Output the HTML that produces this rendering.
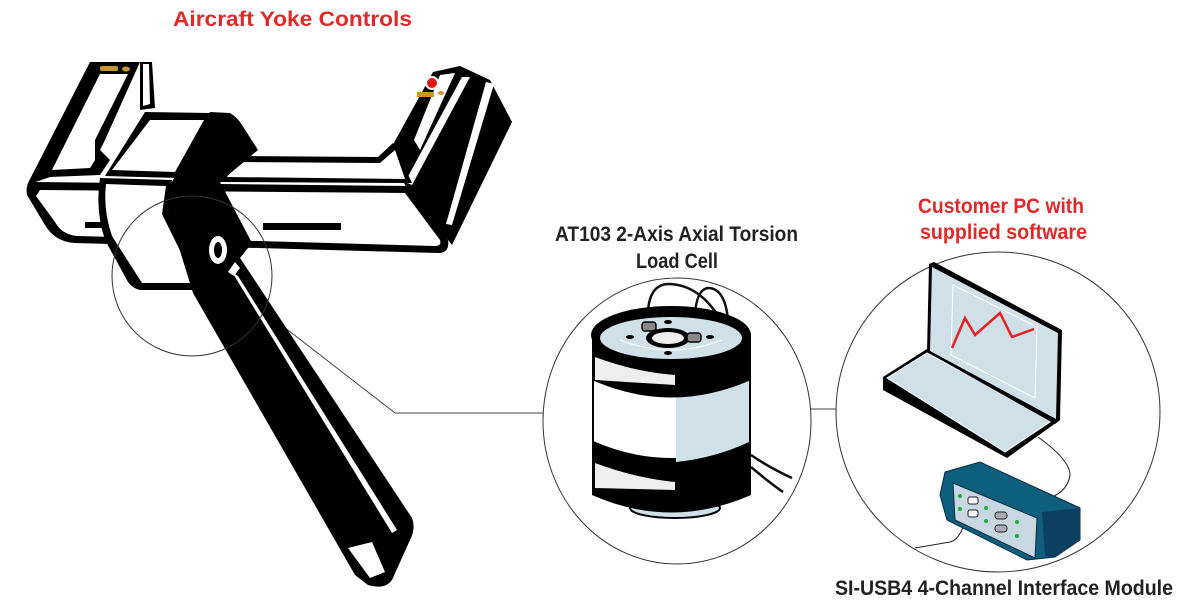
<!DOCTYPE html>
<html><head><meta charset="utf-8"><style>
html,body{margin:0;padding:0;background:#fff;}
svg{display:block;}
text{font-family:"Liberation Sans",sans-serif;font-weight:bold;font-size:21px;}
</style></head><body>
<svg width="1200" height="600" viewBox="0 0 1200 600" xmlns="http://www.w3.org/2000/svg">
<text x="173" y="26" fill="#e02a2a" textLength="239" lengthAdjust="spacingAndGlyphs">Aircraft Yoke Controls</text>
<text x="555" y="241" fill="#222" textLength="243" lengthAdjust="spacingAndGlyphs">AT103 2-Axis Axial Torsion</text>
<text x="636" y="268" fill="#222" textLength="82" lengthAdjust="spacingAndGlyphs">Load Cell</text>
<text x="918" y="213" fill="#e02a2a" textLength="166" lengthAdjust="spacingAndGlyphs">Customer PC with</text>
<text x="920" y="239" fill="#e02a2a" textLength="167" lengthAdjust="spacingAndGlyphs">supplied software</text>
<text x="835" y="595" fill="#222" textLength="338" lengthAdjust="spacingAndGlyphs">SI-USB4 4-Channel Interface Module</text>

<polyline points="275,320 395,413 543,413" fill="none" stroke="#444" stroke-width="1"/>
<line x1="811" y1="409" x2="836" y2="409" stroke="#444" stroke-width="1"/>

<g stroke-linejoin="round">
<polygon points="90,62 140,62 105,140 100,150 110,160 100,175 50,177 27,185" fill="#000"/>
<polygon points="100,74 128,74 95,140 95,160 90,168 52,170" fill="#fff"/>
<polygon points="140,62 152,62 155,108 140,110" fill="#000"/>
<polygon points="143,64 149,64 150,104 143,106" fill="#fff"/>
<rect x="100" y="66" width="18" height="5" rx="2" fill="#c9962e"/>
<ellipse cx="126" cy="69" rx="4" ry="2.5" fill="#c9962e"/>
<path d="M33,182 L410,186 L448,240 Q450,253 438,253 L75,243 Q55,242 45,225 L27,195 Q25,182 33,182 Z" fill="#000"/>
<path d="M40,190 L405,193 L440,240 Q442,246 435,246 L78,236 Q62,235 55,222 L36,196 Z" fill="#fff"/>
<rect x="263" y="223" width="78" height="7" fill="#000"/>
<rect x="85" y="222" width="20" height="6" fill="#000"/>
<polygon points="390,150 433,72 460,66 490,80 512,122 452,245 405,185" fill="#000"/>
<polygon points="440,75 455,73 420,150 414,140" fill="#fff"/>
<polygon points="462,77 470,77 412,185 405,182" fill="#fff"/>
<polygon points="486,82 494,84 452,225 446,224" fill="#fff"/>
<circle cx="432" cy="83" r="6" fill="#e01818" stroke="#fff" stroke-width="2"/>
<rect x="417" y="92" width="17" height="5" fill="#c9962e"/>
<ellipse cx="441" cy="93" rx="3" ry="2" fill="#c9962e"/>
<polygon points="220,182 233,156 378,157 393,143 412,183" fill="#000"/>
<polygon points="227,177 237,162 380,163 395,150 405,179" fill="#fff"/>
<path d="M145,112 L210,113 L180,178 L105,176 Z" fill="#000"/>
<path d="M150,120 L204,120 L175,172 L112,170 Z" fill="#fff"/>
<path d="M100,178 L172,180 L168,212 L208,290 L140,290 Q132,288 128,282 L105,240 Q95,210 100,178 Z" fill="#000"/>
<path d="M106,184 L166,186 L162,214 L196,283 L142,283 L112,236 Q103,210 106,184 Z" fill="#fff"/>
<path d="M210,112 L230,113 Q238,118 242,125 L258,150 L220,182 L252,243 L240,258 L412,518 Q416,528 410,540 L392,580 Q385,590 368,585 L355,575 L193,293 L168,212 Q162,195 172,182 Z" fill="#000"/>
<ellipse cx="218" cy="250" rx="9" ry="14" fill="#fff"/>
<ellipse cx="218" cy="250" rx="4" ry="8" fill="#000"/>
<polygon points="232,272 238,276 397,530 392,533" fill="#fff"/>
<polygon points="228,272 235,262 240,268 234,276" fill="#fff"/>
<polygon points="348,548 372,542 385,572 370,578" fill="#fff"/>
</g>
<ellipse cx="192" cy="276" rx="80" ry="80" fill="none" stroke="#333" stroke-width="1"/>

<ellipse cx="677" cy="421" rx="134" ry="143" fill="#fff" stroke="#333" stroke-width="1"/>
<path d="M648,323 Q646,285 668,284 Q700,284 722,322" fill="none" stroke="#111" stroke-width="2.5"/>
<path d="M695,333 Q693,290 708,288 Q725,288 728,320" fill="none" stroke="#111" stroke-width="2.5"/>
<path d="M751,455 Q770,468 792,478" fill="none" stroke="#111" stroke-width="2.5"/>
<path d="M751,467 Q770,483 783,492" fill="none" stroke="#111" stroke-width="2.5"/>
<ellipse cx="675" cy="508" rx="45" ry="10" fill="#cfe0e8" stroke="#000" stroke-width="2"/>
<path d="M592,440 Q671,475 751,440 L751,495 Q671,530 592,495 Z" fill="#000"/>
<path d="M595,463 Q635,478 675,482 L675,490 L595,488 Z" fill="#eee"/>
<path d="M593,380 L750,380 L750,442 Q671,476 593,442 Z" fill="#fff" stroke="#000" stroke-width="2"/>
<path d="M676,386 L749,375 L749,442 Q715,458 676,462 Z" fill="#cfe0e8"/>
<path d="M592,335 L751,335 L751,380 Q671,415 592,380 Z" fill="#000"/>
<path d="M595,357 Q635,372 675,375 L675,385 L595,380 Z" fill="#eee"/>
<ellipse cx="671" cy="335" rx="80" ry="29" fill="#000"/>
<ellipse cx="671" cy="338" rx="71" ry="21" fill="#cfe0e8"/>
<path d="M620,340 Q671,360 722,340" fill="none" stroke="#fff" stroke-width="1"/>
<ellipse cx="668" cy="338" rx="22" ry="10" fill="#000"/>
<ellipse cx="668" cy="338" rx="16" ry="6" fill="#eee"/>
<ellipse cx="668" cy="322" rx="4" ry="2" fill="#000"/>
<ellipse cx="668" cy="353" rx="4" ry="2" fill="#000"/>
<ellipse cx="630" cy="337" rx="4" ry="2" fill="#000"/>
<ellipse cx="710" cy="337" rx="4" ry="2" fill="#000"/>
<rect x="642" y="322" width="14" height="9" rx="3" fill="#888" stroke="#000" stroke-width="1.5"/>
<rect x="687" y="333" width="14" height="9" rx="3" fill="#888" stroke="#000" stroke-width="1.5"/>

<ellipse cx="998" cy="412" rx="162" ry="160" fill="#fff" stroke="#333" stroke-width="1"/>
<polygon points="883,377 927,349 1060,420 1007,458 883,390" fill="#000"/>
<polygon points="887,378 927,353 1053,420 1005,452" fill="#cfe0e8" stroke="#fff" stroke-width="1"/>
<polygon points="929,264 934,262 1062,330 1060,420 1055,424 927,352" fill="#000"/>
<polygon points="932,267 1058,333 1056,419 930,351" fill="#cfe0e8"/>
<polygon points="953,285 1037,327 1035,398 951,355" fill="none" stroke="#fff" stroke-width="1"/>
<polyline points="952,348 965,318 975,335 1000,313 1012,337 1034,329" fill="none" stroke="#e82020" stroke-width="2.5"/>
<path d="M1038,437 Q1070,460 1070,475 Q1068,490 1052,497" fill="none" stroke="#222" stroke-width="1"/>
<path d="M970,505 Q962,540 950,542 L915,548" fill="none" stroke="#222" stroke-width="1"/>
<polygon points="945,472 980,462 1080,508 1080,540 1055,557 1027,560 947,520 940,495" fill="#0e5f7e" stroke="#0a2c40" stroke-width="1"/>
<polygon points="1042,512 1080,508 1080,540 1055,557 1045,556" fill="#0c3f60"/>
<polygon points="953,483 1037,518 1035,558 955,520" fill="#c8d8e2" stroke="#0a2c40" stroke-width="1"/>
<rect x="968" y="497" width="10" height="7" rx="2" fill="#fff" stroke="#222"/>
<rect x="968" y="510" width="10" height="7" rx="2" fill="#fff" stroke="#222"/>
<rect x="995" y="512" width="12" height="7" rx="3" fill="#aab" stroke="#222"/>
<rect x="995" y="525" width="12" height="7" rx="3" fill="#aab" stroke="#222"/>
<circle cx="960" cy="496" r="2" fill="#2a4"/><circle cx="960" cy="509" r="2" fill="#2a4"/>
<circle cx="986" cy="508" r="2" fill="#2a4"/><circle cx="986" cy="521" r="2" fill="#2a4"/>
<circle cx="1017" cy="522" r="2" fill="#2a4"/><circle cx="1017" cy="536" r="2" fill="#2a4"/>
</svg>
</body></html>
